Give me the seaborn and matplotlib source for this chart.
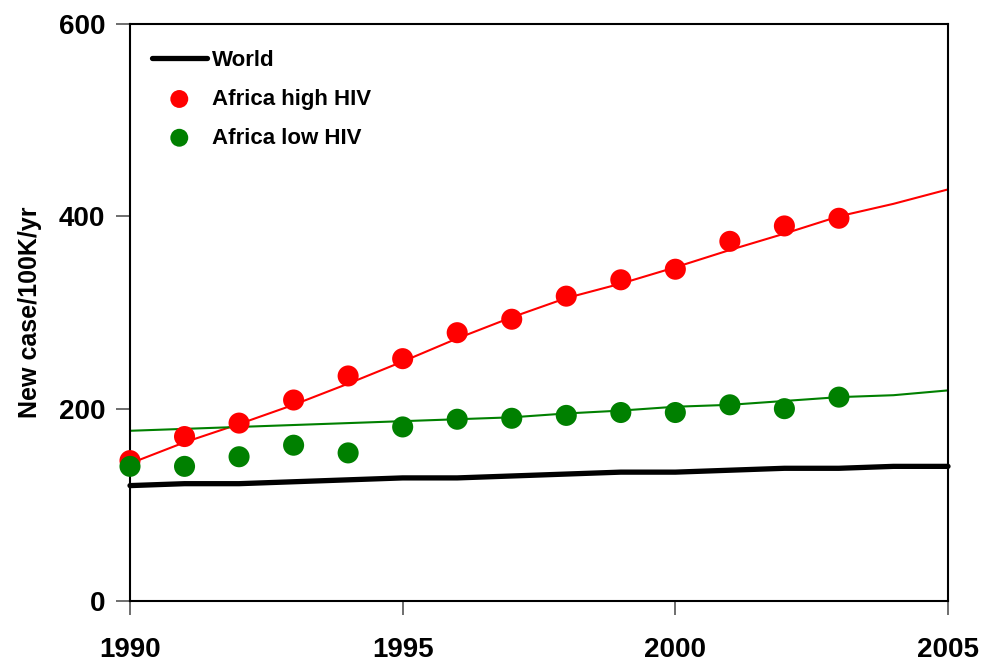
import matplotlib
matplotlib.use("Agg")
import matplotlib.pyplot as plt
import seaborn as sns
import pandas as pd

years = list(range(1990, 2006))
world = [120, 122, 122, 124, 126, 128, 128, 130, 132, 134, 134, 136, 138, 138, 140, 140]
high_fit = [143, 165, 184, 204, 226, 249, 273, 295, 315, 330, 347, 365, 382, 400, 413, 428]
low_fit = [177, 179, 181, 183, 185, 187, 189, 191, 195, 198, 202, 204, 208, 212, 214, 219]

obs_years = list(range(1990, 2004))
high_obs = [146, 171, 185, 209, 234, 252, 279, 293, 317, 334, 345, 374, 390, 398]
low_obs = [140, 140, 150, 162, 154, 181, 189, 190, 193, 196, 196, 204, 200, 212]

sns.set_style("white")
plt.rcParams["font.family"] = ["Liberation Sans", "DejaVu Sans"]
plt.rcParams["font.weight"] = "bold"
plt.rcParams["text.color"] = "black"
plt.rcParams["axes.labelcolor"] = "black"
plt.rcParams["xtick.color"] = "#555555"
plt.rcParams["ytick.color"] = "#555555"

fig = plt.figure(figsize=(9.84, 6.62), dpi=100)
ax = fig.add_axes([130 / 984, 1 - 601 / 662, 818 / 984, 577 / 662])

lines = pd.DataFrame({"year": years, "world": world, "high": high_fit, "low": low_fit})
obs = pd.DataFrame({"year": obs_years, "high": high_obs, "low": low_obs})

sns.lineplot(data=lines, x="year", y="high", color="#ff0000", linewidth=1.5, ax=ax, clip_on=False)
sns.lineplot(data=lines, x="year", y="low", color="#008000", linewidth=1.5, ax=ax, clip_on=False)
sns.lineplot(data=lines, x="year", y="world", color="black", linewidth=3.8, ax=ax,
             clip_on=False, label="World")
sns.scatterplot(data=obs, x="year", y="high", color="#ff0000", s=230, edgecolor="none",
                ax=ax, zorder=3, clip_on=False, label="Africa high HIV")
sns.scatterplot(data=obs, x="year", y="low", color="#008000", s=230, edgecolor="none",
                ax=ax, zorder=4, clip_on=False, label="Africa low HIV")

ax.set_xlim(1990, 2005)
ax.set_ylim(0, 600)
ax.set_xticks([1990, 1995, 2000, 2005])
ax.set_yticks([0, 200, 400, 600])
ax.set_xlabel("")
ax.set_ylabel("New case/100K/yr", fontsize=18, fontweight="bold", labelpad=12)

for s in ax.spines.values():
    s.set_linewidth(1.5)
    s.set_color("black")
ax.tick_params(axis="both", direction="out", length=10, width=1.2,
               labelsize=20, bottom=True, left=True, labelcolor="black")
ax.tick_params(axis="x", pad=16)
ax.tick_params(axis="y", pad=8)
for lab in ax.get_xticklabels() + ax.get_yticklabels():
    lab.set_fontweight("bold")

leg = ax.legend(loc="upper left", frameon=False, fontsize=16, handlelength=2.5,
                handletextpad=0.2, labelspacing=0.8, markerscale=0.85,
                bbox_to_anchor=(0.01, 0.978), borderaxespad=0.2)
for t in leg.get_texts():
    t.set_fontweight("bold")
    t.set_color("black")

fig.savefig("out.png", dpi=100)
